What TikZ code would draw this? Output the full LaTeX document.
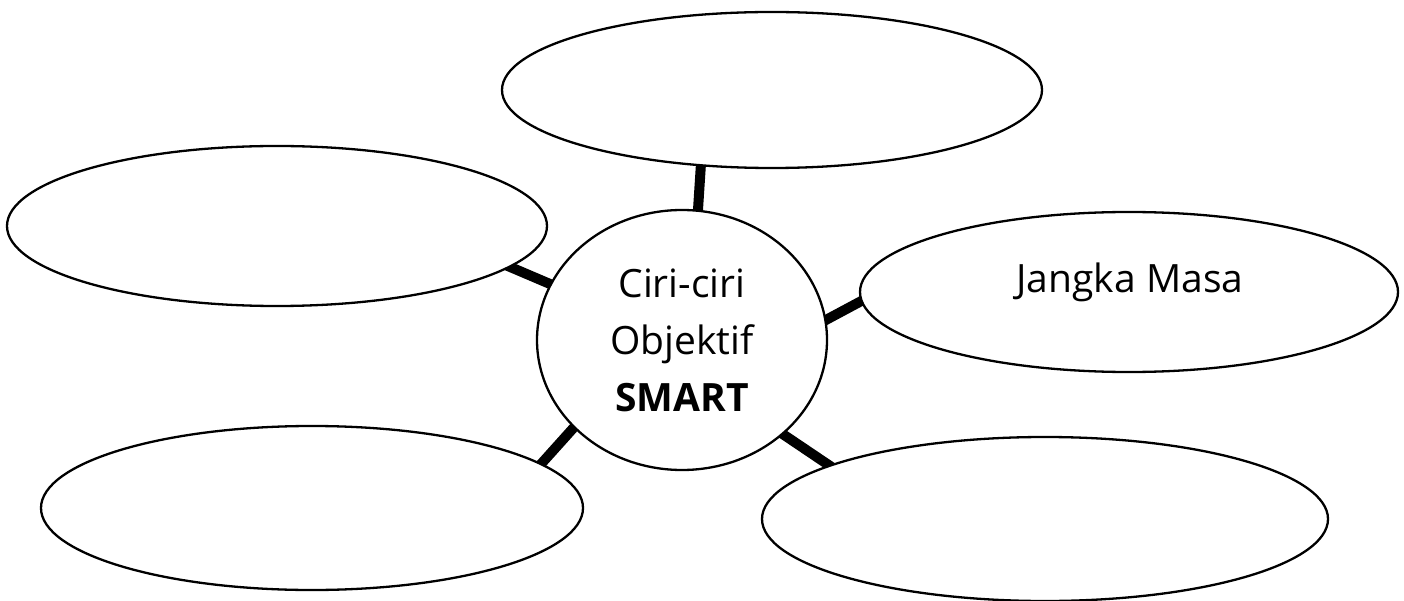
\documentclass[tikz,border=0pt]{standalone}
\usepackage{fontspec}
\setmainfont{Open Sans}
\usetikzlibrary{shapes.geometric,backgrounds}
\begin{document}
\begin{tikzpicture}[x=1pt,y=-1pt,
  bubble/.style={ellipse, draw, line width=2.3pt, fill=white, inner sep=0pt},
  link/.style={line width=10pt, shorten <=-4pt, shorten >=-4pt},
  lbl/.style={font=\fontsize{39}{57}\selectfont}]
\useasboundingbox (0,0) rectangle (1404,601);
\node[bubble, minimum width=290pt, minimum height=260pt, lbl, align=center] (c) at (682,340) {Ciri-ciri\\Objektif\\\textbf{SMART}};
\node[bubble, minimum width=540pt, minimum height=156pt] (top) at (772,90) {};
\node[bubble, minimum width=540pt, minimum height=160pt] (left) at (277,226) {};
\node[bubble, minimum width=538pt, minimum height=160pt] (right) at (1129,292) {};
\node[bubble, minimum width=542pt, minimum height=164pt] (bl) at (312,508) {};
\node[bubble, minimum width=566pt, minimum height=164pt] (br) at (1045,519) {};
\node[lbl, anchor=base, inner sep=0pt] (jm) at (1130,293) {Jangka Masa};
\begin{scope}[on background layer]
\draw[link] (c.83.4) -- (top.227);
\draw[link] (c.157.1) -- (left.-10.7);
\draw[link] (c.8) -- (right.182.8);
\draw[link] (c.219.7) -- (bl.11.9);
\draw[link] (c.-43.8) -- (br.166.8);
\end{scope}
\end{tikzpicture}
\end{document}
